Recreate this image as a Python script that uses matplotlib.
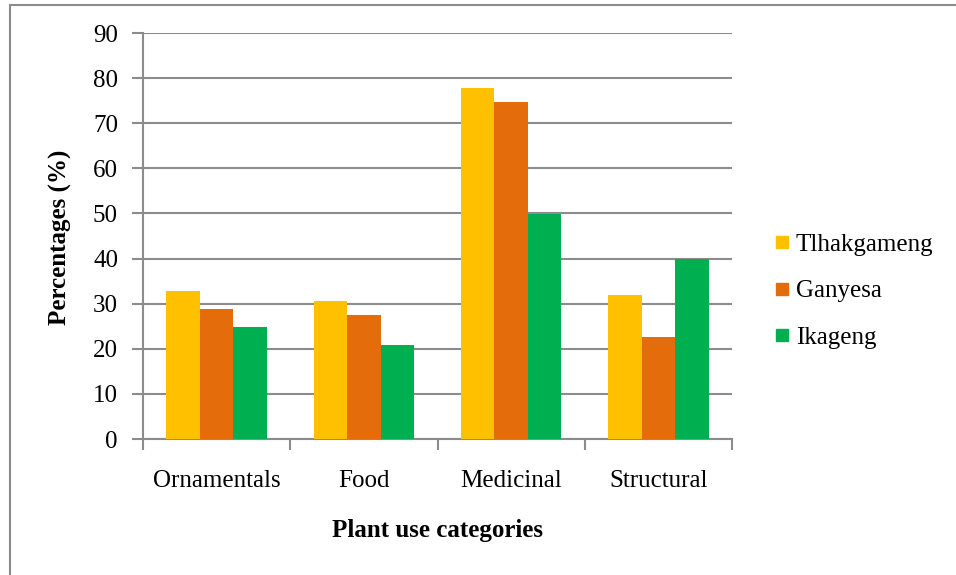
import numpy as np
import matplotlib
matplotlib.use("Agg")
import matplotlib.pyplot as plt
from matplotlib.lines import Line2D
from matplotlib.patches import Rectangle

# --- Data ---
categories = ["Ornamentals", "Food", "Medicinal", "Structural"]
sites = ["Tlhakgameng", "Ganyesa", "Ikageng"]
tlhakgameng = [32.8, 30.6, 77.8, 31.9]
ganyesa = [28.9, 27.5, 74.8, 22.7]
ikageng = [24.9, 20.9, 49.8, 39.8]
colors = ["#FFC000", "#E46C0A", "#00B050"]
yticks = [0, 10, 20, 30, 40, 50, 60, 70, 80, 90]

plt.rcParams['font.family'] = ['Liberation Serif', 'DejaVu Serif']
FS = 18
GRID = "#8c8c8c"

fig = plt.figure(figsize=(9.56, 5.75), dpi=100)
ax = fig.add_axes([143/956, 1 - 439/575, (732 - 143)/956, (439 - 33)/575])

# outer chart border (left/top visible in the reference)
fig.patches.append(Rectangle((10/956, -0.05), 1.2, 1 - 5/575 + 0.05,
                             transform=fig.transFigure, fill=False,
                             edgecolor="#8c8c8c", lw=1.5))

x = np.arange(len(categories))
w = 0.227
for i, (vals, c) in enumerate(zip([tlhakgameng, ganyesa, ikageng], colors)):
    ax.bar(x + (i - 1) * w, vals, width=w, color=c, zorder=3, label=sites[i])

ax.set_xlim(-0.5, len(categories) - 0.5)
ax.set_ylim(0, 90)
ax.set_yticks(yticks)
ax.yaxis.grid(True, color=GRID, lw=1.5, zorder=0)
ax.set_axisbelow(True)

# category boundary ticks on the x axis, labels centred in each slot
ax.set_xticks(np.arange(-0.5, len(categories)), minor=False)
ax.set_xticklabels([])
ax.set_xticks(x, minor=True)
ax.set_xticklabels(categories, minor=True, fontsize=FS)
ax.tick_params(axis='x', which='minor', length=0, pad=22)
ax.tick_params(axis='x', which='major', length=8, width=1.5, color=GRID, direction='out')
ax.tick_params(axis='y', length=8, width=1.5, color=GRID, labelsize=FS, pad=10)

for s in ["top", "right"]:
    ax.spines[s].set_visible(False)
for s in ["left", "bottom"]:
    ax.spines[s].set_color(GRID)
    ax.spines[s].set_linewidth(1.5)

fig.text(60/956, 1 - 237/575, "Percentages (%)", rotation=90, ha='center', va='center',
         fontsize=FS, fontweight='bold')
fig.text(437/956, 1 - 530/575, "Plant use categories", ha='center', va='center',
         fontsize=FS, fontweight='bold')

handles = [Line2D([], [], marker='s', ls='none', markersize=9, color=c) for c in colors]
fig.legend(handles, sites, loc='center left', bbox_to_anchor=(752/956, 1 - 291/575),
           frameon=False, fontsize=FS, handlelength=0.6, handletextpad=0.25,
           labelspacing=0.95)

fig.savefig("out.png", dpi=100)
